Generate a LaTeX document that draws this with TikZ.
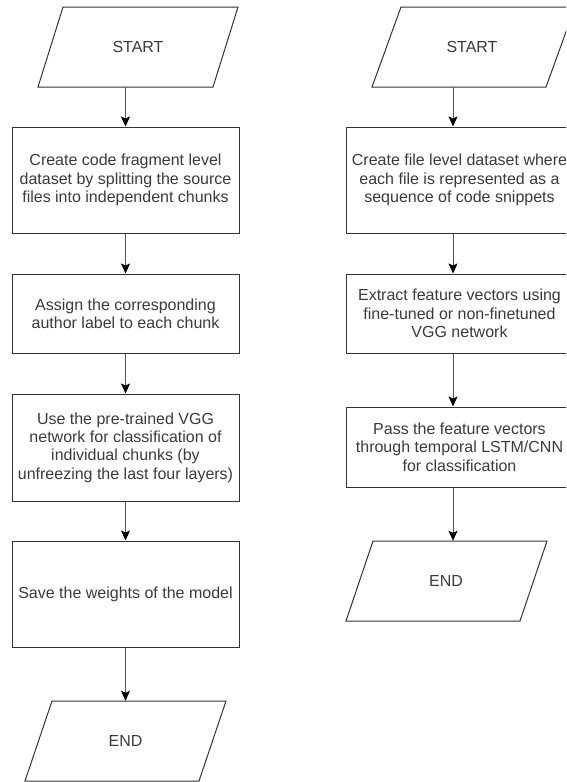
\documentclass[tikz,border=0pt]{standalone}
\usepackage{fontspec}
\setmainfont{Liberation Sans}
\usetikzlibrary{arrows.meta}
\definecolor{linec}{HTML}{333333}
\definecolor{textc}{HTML}{3A3A3A}
\definecolor{shaftc}{HTML}{555555}
\begin{document}
\begin{tikzpicture}[x=1pt,y=-1pt,
  every node/.style={font=\fontsize{16}{18.3}\selectfont, text=textc, align=center, inner sep=0pt},
  procbox/.style={draw=linec, line width=1pt, minimum width=227pt},
  io/.style={minimum width=175pt, minimum height=80pt},
  pgram/.style={draw=linec, line width=1pt, line join=miter},
  arr/.style={draw=shaftc, line width=1pt, -{Stealth[length=10pt,width=9pt,inset=2pt,color=black]}}]
\useasboundingbox (0,0) rectangle (566,782);
\clip (0,0) rectangle (566,782);
% ---------- left column ----------
\node[io] (ls) at (138,47) {START};
\draw[pgram] (63,7) -- (238,7) -- (213,87) -- (38,87) -- cycle;
\node[procbox, minimum height=106pt] (l1) at (125.5,180) {Create code fragment level\\dataset by splitting the source\\files into independent chunks};
\node[procbox, minimum height=79pt] (l2) at (125.5,313.5) {Assign the corresponding\\author label to each chunk};
\node[procbox, minimum height=107pt] (l3) at (125.5,447.5) {Use the pre-trained VGG\\network for classification of\\individual chunks (by\\unfreezing the last four layers)};
\node[procbox, minimum height=106pt] (l4) at (125.5,594) {Save the weights of the model};
\node[io] (le) at (125.5,741) {END};
\draw[pgram] (52,701) -- (226,701) -- (199,781) -- (25,781) -- cycle;
\draw[arr] (l1.north |- ls.south) -- (l1.north);
\draw[arr] (l1.south) -- (l2.north);
\draw[arr] (l2.south) -- (l3.north);
\draw[arr] (l3.south) -- (l4.north);
\draw[arr] (l4.south) -- (le.north);
% ---------- right column ----------
\coordinate (rx) at (453,0);
\node[io] (rs) at (472,47) {START};
\draw[pgram] (401,7) -- (575,7) -- (546,87) -- (372,87) -- cycle;
\node[procbox, minimum height=106pt] (r1) at (459.5,180) {Create file level dataset where\\each file is represented as a\\sequence of code snippets};
\node[procbox, minimum height=79pt] (r2) at (459.5,313.5) {Extract feature vectors using\\fine-tuned or non-finetuned\\VGG network};
\node[procbox, minimum height=80pt] (r3) at (459.5,447) {Pass the feature vectors\\through temporal LSTM/CNN\\for classification};
\node[io] (re) at (446,581) {END};
\draw[pgram] (373,541) -- (547,541) -- (520,621) -- (346,621) -- cycle;
\draw[arr] (rx |- rs.south) -- (rx |- r1.north);
\draw[arr] (rx |- r1.south) -- (rx |- r2.north);
\draw[arr] (rx |- r2.south) -- (rx |- r3.north);
\draw[arr] (rx |- r3.south) -- (rx |- re.north);
\end{tikzpicture}
\end{document}
